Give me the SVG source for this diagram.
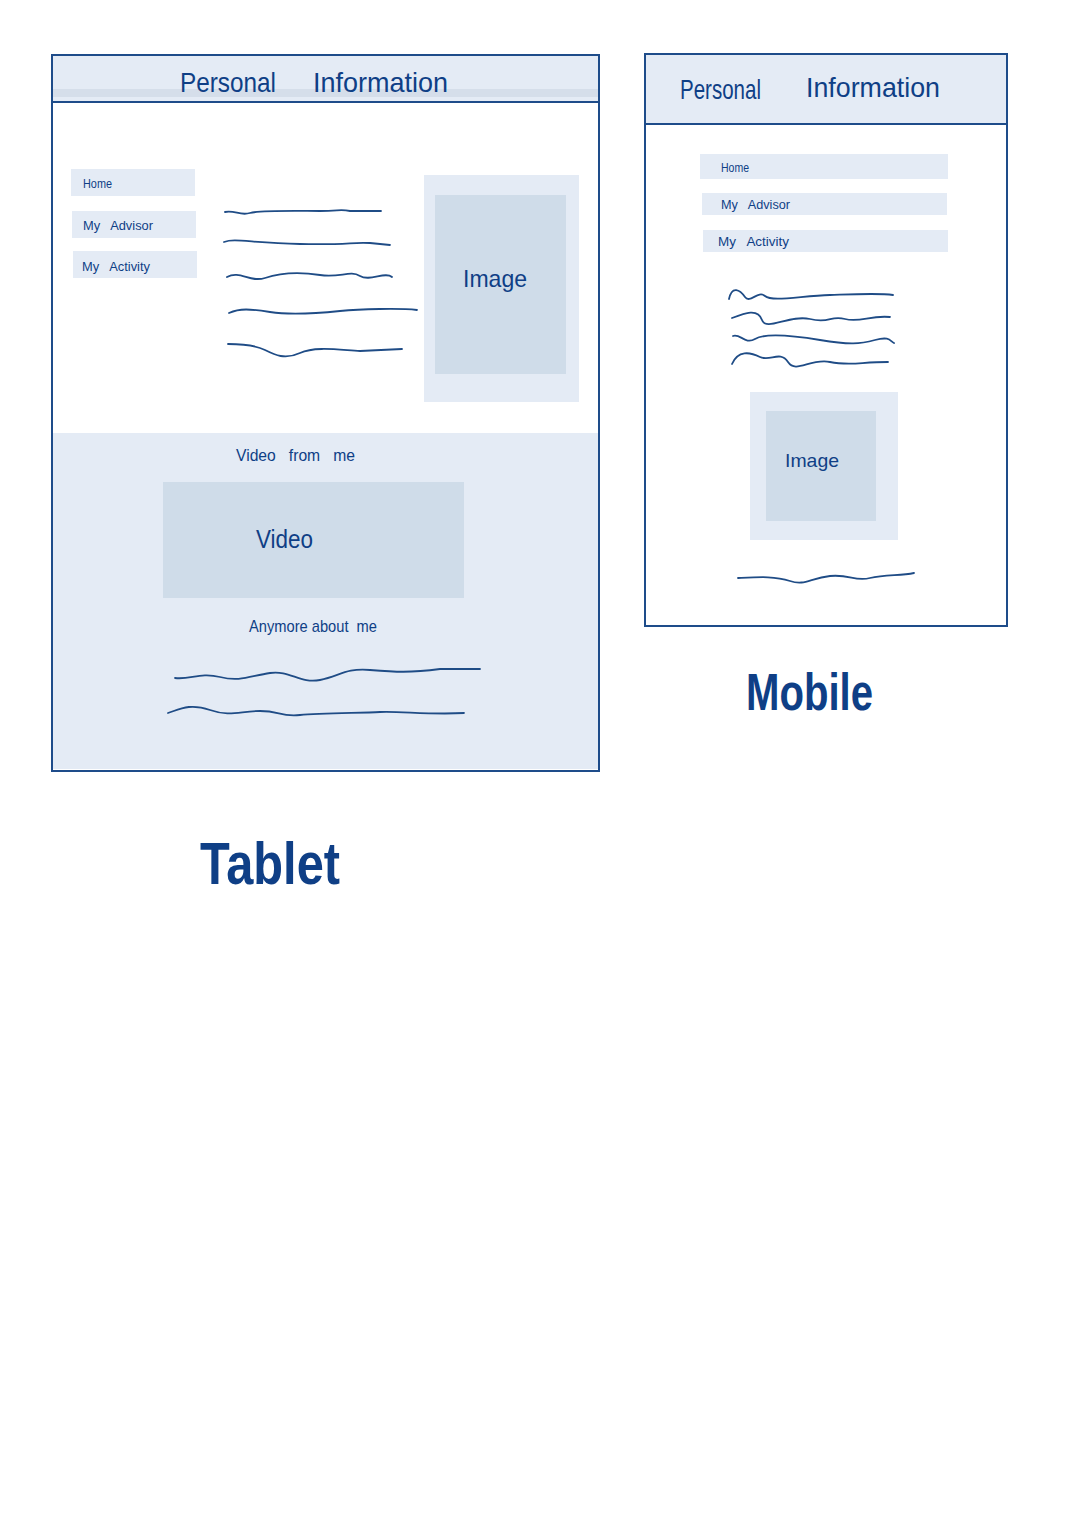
<svg xmlns="http://www.w3.org/2000/svg" width="1077" height="1523" viewBox="0 0 1077 1523" xml:space="preserve">
<style>
.frame{fill:#fff;stroke:#1E4C8A;stroke-width:2}
.light{fill:#E4EBF5}
.mid{fill:#CFDCE9}
.rule{stroke:#1E4C8A;stroke-width:2;fill:none}
.wave{fill:none;stroke:#1F4C86;stroke-width:1.8;stroke-linecap:round}
text{font-family:"Liberation Sans","Open Sans",sans-serif;fill:#0F3F86;white-space:pre}
.nav{font-size:12px}
.title{font-size:28px}
</style>
<rect width="1077" height="1523" fill="#fff"/>
<g id="tablet">
  <rect class="frame" x="52" y="55" width="547" height="716"/>
  <rect class="light" x="53" y="56" width="545" height="46"/>
  <rect x="53" y="89" width="545" height="8" fill="#D5DEEA"/>
  <line class="rule" x1="53" y1="102" x2="598" y2="102"/>
  <text class="title" x="180" y="92" textLength="96" lengthAdjust="spacingAndGlyphs">Personal</text>
  <text class="title" x="313" y="92" textLength="135" lengthAdjust="spacingAndGlyphs">Information</text>
  <g id="t-home"><rect class="light" x="71" y="169" width="124" height="27"/><text class="nav" x="83" y="188" textLength="29" lengthAdjust="spacingAndGlyphs">Home</text></g>
  <g id="t-advisor"><rect class="light" x="72" y="211" width="124" height="27"/><text class="nav" x="83" y="230" textLength="70" lengthAdjust="spacingAndGlyphs">My   Advisor</text></g>
  <g id="t-activity"><rect class="light" x="73" y="251" width="124" height="27"/><text class="nav" x="82" y="271" textLength="68" lengthAdjust="spacingAndGlyphs">My   Activity</text></g>
  <path class="wave" d="M225 212 C235 210 240 216 250 213 S300 211 320 211 S340 209 350 211 L381 211"/>
  <path class="wave" d="M224 242 C235 238 250 243 300 244 S350 242 370 243 L390 245"/>
  <path class="wave" d="M227 277 C240 270 250 283 265 278 S300 272 320 275 S350 270 360 276 S385 271 392 277"/>
  <path class="wave" d="M229 313 C240 308 250 309 270 312 S320 313 340 311 S400 308 417 310"/>
  <path class="wave" d="M228 344 C240 344 255 345 265 350 S285 360 300 353 S340 350 360 351 L402 349"/>
  <g id="t-image"><rect class="light" x="424" y="175" width="155" height="227"/><rect class="mid" x="435" y="195" width="131" height="179"/><text x="463" y="287" font-size="24" textLength="64" lengthAdjust="spacingAndGlyphs">Image</text></g>
  <rect class="light" x="53" y="433" width="545" height="336"/>
  <text x="236" y="461" font-size="17" textLength="119" lengthAdjust="spacingAndGlyphs">Video   from   me</text>
  <g id="t-video"><rect class="mid" x="163" y="482" width="301" height="116"/><text x="256" y="548" font-size="26" textLength="57" lengthAdjust="spacingAndGlyphs">Video</text></g>
  <text x="249" y="632" font-size="17" textLength="128" lengthAdjust="spacingAndGlyphs">Anymore about  me</text>
  <path class="wave" d="M175 678 C190 680 200 672 220 677 S250 676 270 673 S300 684 320 680 S345 668 370 670 S410 673 440 669 L480 669"/>
  <path class="wave" d="M168 713 C180 709 190 703 210 710 S240 711 260 711 S280 717 300 715 S360 713 380 712 S430 715 464 713"/>
</g>
<text x="200" y="884" font-size="60" font-weight="bold" textLength="140" lengthAdjust="spacingAndGlyphs">Tablet</text>
<g id="mobile">
  <rect class="frame" x="645" y="54" width="362" height="572"/>
  <rect class="light" x="646" y="55" width="360" height="69"/>
  <line class="rule" x1="646" y1="124" x2="1006" y2="124"/>
  <text class="title" x="680" y="99" textLength="81" lengthAdjust="spacingAndGlyphs">Personal</text>
  <text class="title" x="806" y="97" textLength="134" lengthAdjust="spacingAndGlyphs">Information</text>
  <g id="m-home"><rect class="light" x="700" y="154" width="248" height="25"/><text class="nav" x="721" y="172" textLength="28" lengthAdjust="spacingAndGlyphs">Home</text></g>
  <g id="m-advisor"><rect class="light" x="702" y="193" width="245" height="22"/><text class="nav" x="721" y="209" textLength="69" lengthAdjust="spacingAndGlyphs">My   Advisor</text></g>
  <g id="m-activity"><rect class="light" x="703" y="230" width="245" height="22"/><text class="nav" x="718" y="246" textLength="71" lengthAdjust="spacingAndGlyphs">My   Activity</text></g>
  <path class="wave" d="M729 299 C732 285 740 290 745 297 S758 290 765 296 S800 296 830 295 S880 293 893 295"/>
  <path class="wave" d="M732 318 C745 313 758 308 762 320 S790 314 810 319 S830 315 845 319 S870 315 890 317"/>
  <path class="wave" d="M733 336 C740 333 745 345 755 339 S790 335 820 340 S860 344 875 340 S890 341 894 343"/>
  <path class="wave" d="M732 364 C738 350 750 352 760 357 S780 350 788 362 S810 358 830 362 S860 362 888 362"/>
  <g id="m-image"><rect class="light" x="750" y="392" width="148" height="148"/><rect class="mid" x="766" y="411" width="110" height="110"/><text x="785" y="467" font-size="19" textLength="54" lengthAdjust="spacingAndGlyphs">Image</text></g>
  <path class="wave" d="M738 578 C760 577 775 576 790 581 S810 578 830 576 S855 582 870 578 S900 576 914 573"/>
</g>
<text x="746" y="710" font-size="52" font-weight="bold" textLength="127" lengthAdjust="spacingAndGlyphs">Mobile</text>
</svg>
